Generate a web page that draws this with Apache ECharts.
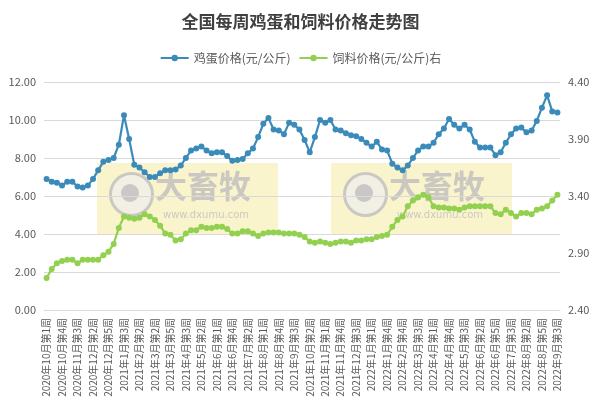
<!DOCTYPE html>
<html><head><meta charset="utf-8">
<script src="https://cdn.jsdelivr.net/npm/echarts@6/dist/echarts.min.js"></script>
<style>html,body{margin:0;padding:0;background:#fff}#c{width:601px;height:415px}</style>
</head><body><div id="c"></div>
<script>
// month week spec: [year, month, first week, last week]
const weekSpec = [
 [2020,10,1,4],[2020,11,1,4],[2020,12,1,5],
 [2021,1,1,4],[2021,2,1,3],[2021,3,1,5],[2021,4,1,4],[2021,5,1,4],[2021,6,1,5],
 [2021,7,1,4],[2021,8,1,4],[2021,9,1,4],[2021,10,1,4],[2021,11,1,4],[2021,12,1,5],
 [2022,1,1,4],[2022,2,2,4],[2022,3,1,5],[2022,4,1,4],[2022,5,1,4],[2022,6,1,5],
 [2022,7,1,4],[2022,8,1,5],[2022,9,1,3]
];
const categories = [];
weekSpec.forEach(([y,m,a,b])=>{for(let w=a;w<=b;w++)categories.push(y+'年'+m+'月第'+w+'周');});

const eggPrice = [6.9,6.75,6.7,6.55,6.75,6.75,6.5,6.45,6.55,6.9,
 7.35,7.8,7.9,8.0,8.7,10.25,9.0,7.65,7.5,7.25,
 7.0,7.0,7.2,7.35,7.35,7.4,7.6,8.0,8.4,8.5,
 8.6,8.4,8.25,8.3,8.3,8.1,7.85,7.9,7.95,8.25,
 8.5,9.1,9.8,10.1,9.5,9.45,9.25,9.85,9.75,9.5,
 8.95,8.3,9.1,10.0,9.85,10.0,9.5,9.45,9.3,9.2,
 9.15,9.0,8.8,8.6,8.85,8.45,8.4,7.7,7.5,7.35,
 7.6,8.0,8.4,8.6,8.6,8.8,9.25,9.55,10.05,9.75,
 9.55,9.75,9.5,8.85,8.55,8.55,8.55,8.15,8.3,8.8,
 9.25,9.55,9.6,9.35,9.45,9.95,10.65,11.3,10.45,10.4];
const feedPrice = [2.68,2.76,2.81,2.83,2.84,2.84,2.81,2.84,2.84,2.84,
 2.84,2.88,2.91,2.98,3.12,3.22,3.21,3.2,3.21,3.24,
 3.22,3.19,3.14,3.07,3.06,3.01,3.02,3.07,3.1,3.1,
 3.13,3.12,3.12,3.13,3.13,3.11,3.07,3.07,3.09,3.09,
 3.07,3.05,3.07,3.08,3.08,3.08,3.07,3.07,3.07,3.06,
 3.04,3.0,2.99,3.0,2.99,2.98,2.99,3.0,3.0,2.99,
 3.01,3.01,3.02,3.02,3.04,3.05,3.06,3.13,3.19,3.22,
 3.31,3.36,3.39,3.41,3.39,3.31,3.3,3.3,3.29,3.29,
 3.28,3.3,3.31,3.31,3.31,3.31,3.31,3.25,3.24,3.28,
 3.25,3.22,3.25,3.25,3.24,3.28,3.29,3.31,3.36,3.41];
const leftTicks = {min:0,max:12,interval:2};
const rightTicks = {min:2.4,max:4.4,interval:0.5};

function watermark(x){
  return [
   {type:'rect',left:x,top:163,shape:{width:181,height:72},style:{fill:'rgba(246,236,170,0.6)'},z:0},
   {type:'circle',left:x+12,top:172,shape:{r:21},style:{fill:'rgba(240,240,240,0.7)',stroke:'rgba(190,190,190,0.8)',lineWidth:3},z:0},
   {type:'circle',left:x+24,top:184,shape:{r:9},style:{fill:'rgba(190,190,190,0.8)'},z:0},
   {type:'text',left:x+58,top:170,style:{text:'大畜牧',fill:'rgba(190,190,190,0.8)',font:'bold 32px "Noto Sans CJK SC"'},z:0},
   {type:'text',left:x+66,top:210,style:{text:'www.dxumu.com',fill:'rgba(190,190,190,0.8)',font:'10px "DejaVu Sans"'},z:0}
  ];
}
const chart = echarts.init(document.getElementById('c'));
chart.setOption({
  animation:false,
  textStyle:{fontFamily:'"Noto Sans CJK SC", sans-serif'},
  title:{text:'全国每周鸡蛋和饲料价格走势图',left:'center',top:8,textStyle:{fontSize:17,fontWeight:'bold',color:'#404040'}},
  legend:{top:47,left:'center',itemWidth:28,itemHeight:8,textStyle:{fontSize:12,color:'#595959'},
    data:['鸡蛋价格(元/公斤)','饲料价格(元/公斤)右']},
  graphic:[...watermark(97),...watermark(331)],
  grid:{left:44,right:41,top:82,bottom:105},
  xAxis:{type:'category',data:categories,boundaryGap:true,
    axisLine:{lineStyle:{color:'#d9d9d9'}},axisTick:{show:false},
    axisLabel:{rotate:90,interval:2,fontSize:10,color:'#595959'}},
  yAxis:[
   {type:'value',...leftTicks,axisLabel:{formatter:v=>v.toFixed(2),fontSize:11,color:'#595959'},
    splitLine:{lineStyle:{color:'#d9d9d9'}},axisLine:{show:false},axisTick:{show:false}},
   {type:'value',...rightTicks,axisLabel:{formatter:v=>v.toFixed(2),fontSize:11,color:'#595959'},
    splitLine:{show:false},axisLine:{show:false},axisTick:{show:false}}
  ],
  series:[
   {name:'鸡蛋价格(元/公斤)',type:'line',data:eggPrice,yAxisIndex:0,symbol:'circle',symbolSize:6,showAllSymbol:true,
    itemStyle:{color:'#3b8bba'},lineStyle:{width:2.2,color:'#3b8bba'},z:3},
   {name:'饲料价格(元/公斤)右',type:'line',data:feedPrice,yAxisIndex:1,symbol:'circle',symbolSize:6,showAllSymbol:true,
    itemStyle:{color:'#92d050'},lineStyle:{width:2.2,color:'#92d050'},z:3}
  ]
});
</script></body></html>
